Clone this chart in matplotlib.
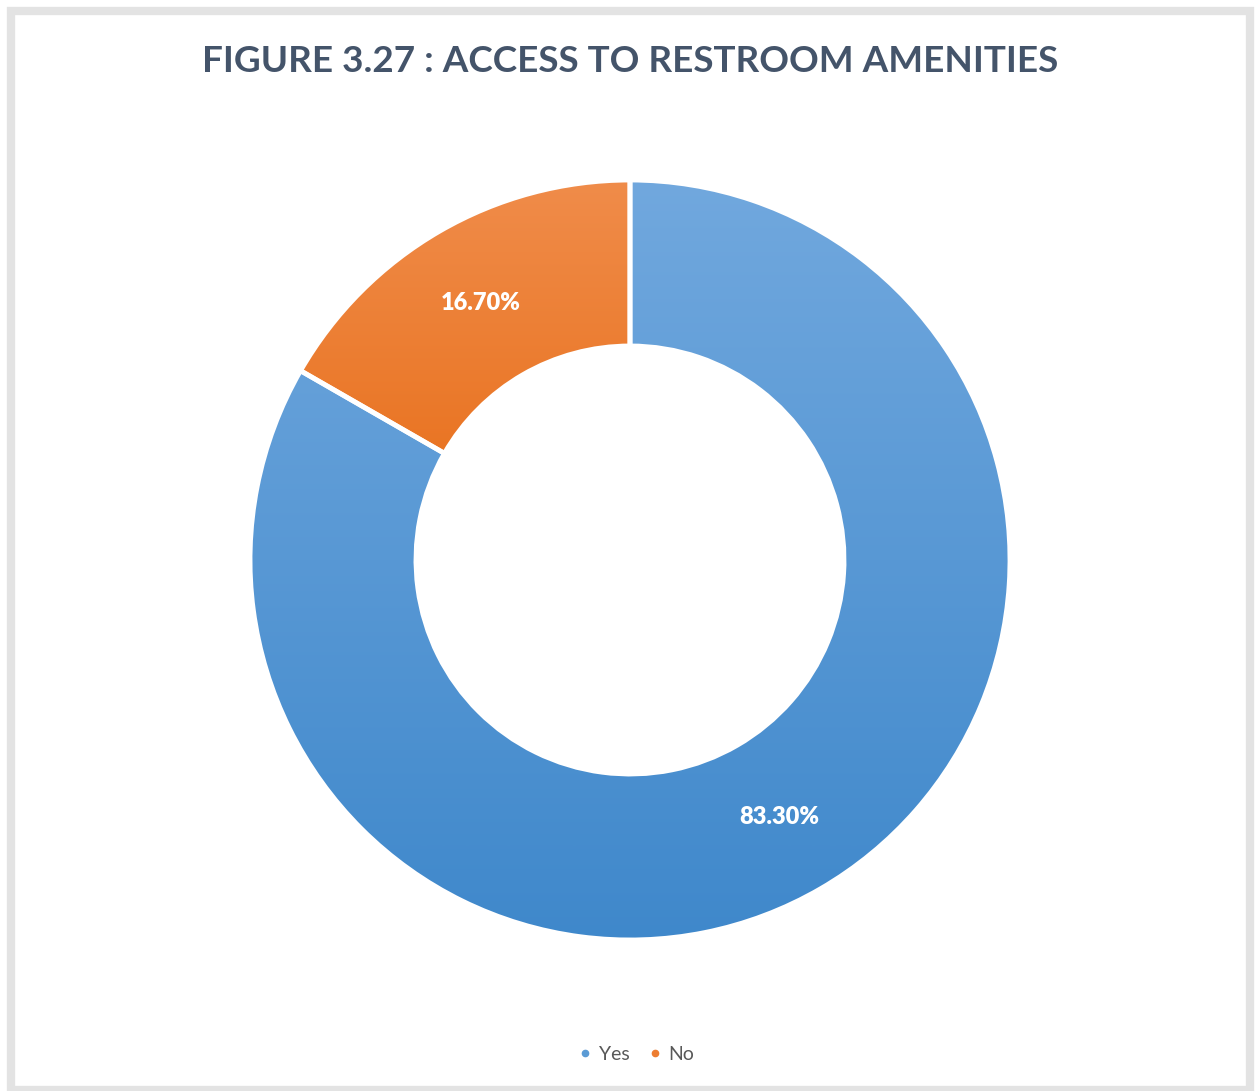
import matplotlib
matplotlib.use("Agg")
import matplotlib.pyplot as plt
import numpy as np
from matplotlib.colors import LinearSegmentedColormap
from matplotlib.patches import Rectangle
from matplotlib.lines import Line2D

# Survey result: access to restroom amenities
categories = ["Yes", "No"]
shares = [83.3, 16.7]
pct_labels = ["83.30%", "16.70%"]
title = "FIGURE 3.27 : ACCESS TO RESTROOM AMENITIES"

base_colors = ["#5b9bd5", "#ed7d31"]
grad_top = ["#71a8de", "#f08c4a"]
grad_bottom = ["#3f88cb", "#e76c15"]

W, H = 1258, 1091
fig = plt.figure(figsize=(W / 100, H / 100), dpi=100)
fig.patch.set_facecolor("white")

# light grey frame around the chart area
frame = Rectangle((11 / W, 1 - 1090 / H), (1250 - 11) / W, (1090 - 11) / H,
                  transform=fig.transFigure, fill=False,
                  edgecolor="#e3e3e3", linewidth=6, zorder=0)
fig.patches.append(frame)

fig.text(630 / W, 1 - 61 / H, title, ha="center", va="center",
         fontsize=26.6, fontweight="bold", color="#44546a", family="Lato")

cx, cy, R = 630, 560, 380
ax = fig.add_axes([(cx - R - 10) / W, 1 - (cy + R + 10) / H,
                   (2 * R + 20) / W, (2 * R + 20) / H])
lim = (R + 10) / R
ax.set_aspect("equal")
ax.axis("off")

inner_frac = 214 / 380
wedges, texts, autotexts = ax.pie(
    shares, colors=base_colors, startangle=90, counterclock=False,
    radius=1.0, autopct=lambda p: "", pctdistance=(1 + inner_frac) / 2,
    wedgeprops=dict(width=1 - inner_frac, linewidth=0))

# vertical gradient fill clipped to each wedge
grad = np.linspace(0, 1, 256).reshape(-1, 1)
for w, top, bot in zip(wedges, grad_top, grad_bottom):
    cmap = LinearSegmentedColormap.from_list("g", [top, bot])
    path = w.get_path()
    verts = w.get_transform().transform(path.vertices)
    verts = ax.transData.inverted().transform(verts)
    x0, x1 = verts[:, 0].min(), verts[:, 0].max()
    y0, y1 = verts[:, 1].min(), verts[:, 1].max()
    im = ax.imshow(grad, cmap=cmap, extent=(x0, x1, y0, y1), origin="upper",
                   aspect="auto", zorder=2, interpolation="bilinear")
    im.set_clip_path(w)

# white separators between slices
edge_w, _ = ax.pie(shares, startangle=90, counterclock=False, radius=1.0,
                   wedgeprops=dict(width=1 - inner_frac, facecolor="none",
                                   edgecolor="white", linewidth=3.5))
for e in edge_w:
    e.set_zorder(3)

ax.set_xlim(-lim, lim)
ax.set_ylim(-lim, lim)

for t, lab in zip(autotexts, pct_labels):
    t.set_text(lab)
    t.set_color("white")
    t.set_fontsize(17)
    t.set_fontweight("heavy")
    t.set_family("Lato")
    t.set_zorder(5)

handles = [Line2D([], [], marker="o", linestyle="none", markersize=4.5,
                  markerfacecolor=c, markeredgecolor=c) for c in base_colors]
fig.legend(handles, categories, loc="center", bbox_to_anchor=(637 / W, 1 - 1054 / H),
           ncol=2, frameon=False, handlelength=0.6, handletextpad=0.4,
           columnspacing=1.0, prop=dict(family="Lato", size=14),
           labelcolor="#595959")

fig.savefig("out.png", dpi=100, facecolor="white")
